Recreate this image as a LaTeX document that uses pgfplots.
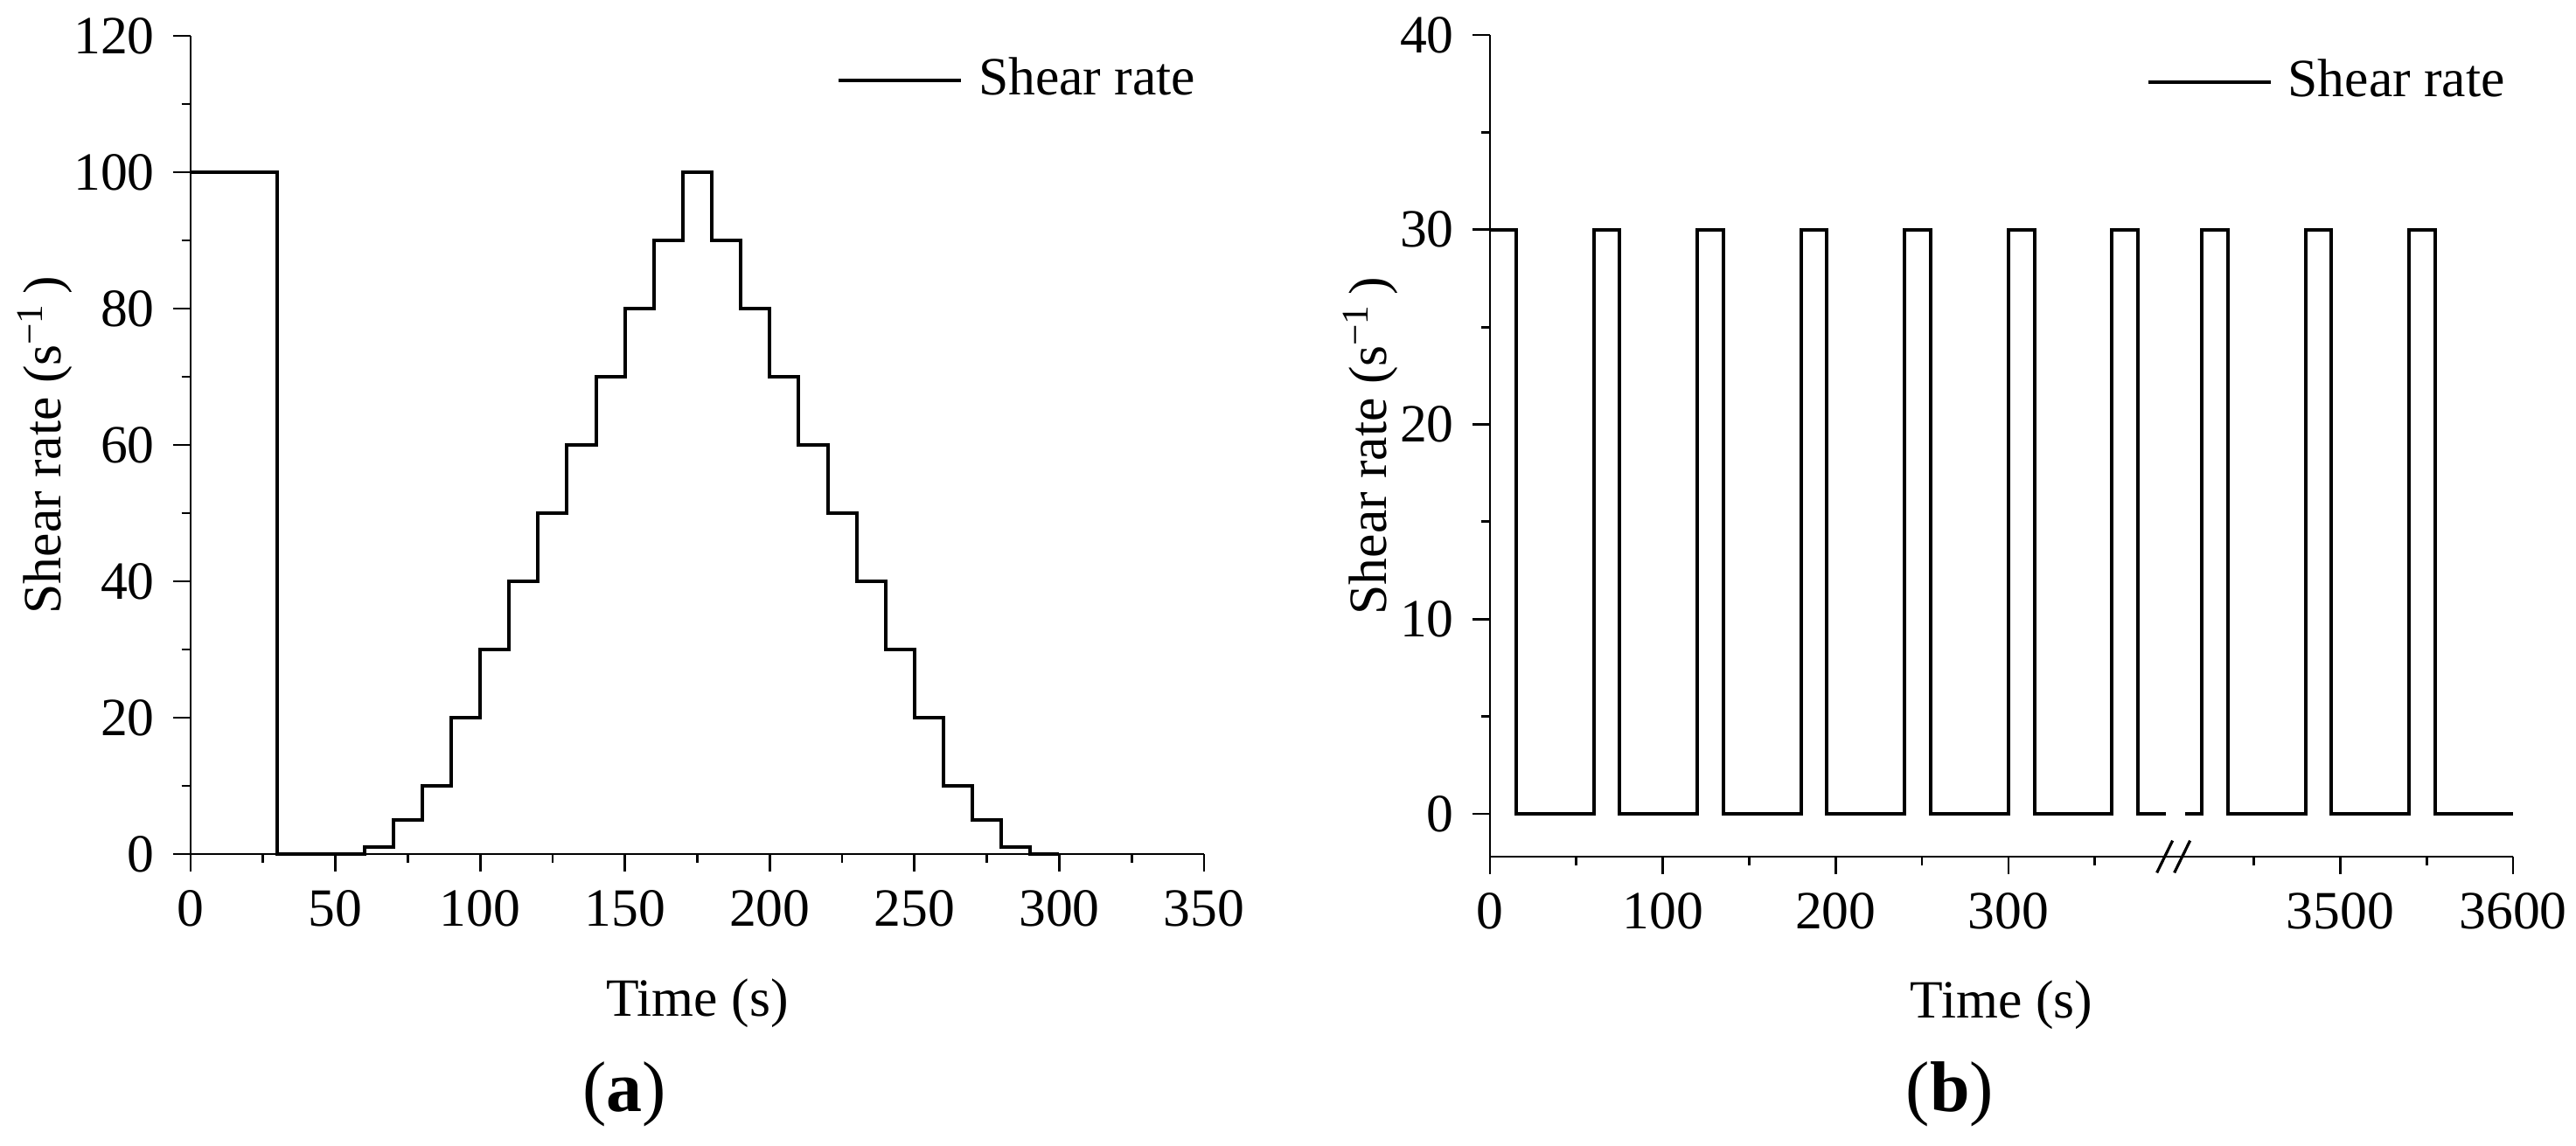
\documentclass[border=0pt]{standalone}
\usepackage{fontspec}
\setmainfont{Liberation Serif}
\usepackage{pgfplots}
\pgfplotsset{compat=1.18}
\newcommand{\fs}{\fontsize{15.4}{18}\selectfont}
\begin{document}
\fs
\begin{tikzpicture}
\useasboundingbox (0,0) rectangle (736.5pt,327.5pt);
\pgfplotsset{
  common/.style={
    scale only axis,
    axis x line*=bottom, axis y line*=left,
    tick align=outside,
    major tick length=5pt, minor tick length=2.6pt,
    every tick/.style={black, line width=0.7pt},
    axis line style={black, line width=0.7pt},
    tick label style={font=\fs, black},
    label style={font=\fs},
    /pgf/number format/assume math mode=true,
    /pgf/number format/1000 sep={},
    legend style={draw=none, fill=none, font=\fs, inner sep=0pt, outer sep=0pt,
      nodes={inner sep=0pt}, legend cell align=left},
    legend image code/.code={\draw[line width=1pt] (0pt,0pt) -- (35pt,0pt); \path (39.5pt,0pt);},
    clip=false,
  }
}
% ---------------- (a) ----------------
\begin{axis}[common,
  at={(54.5pt,83.25pt)}, anchor=south west,
  width=289.75pt, height=234pt,
  xmin=0, xmax=350, ymin=0, ymax=120,
  xtick={0,50,...,350}, ytick={0,20,...,120},
  minor x tick num=1, minor y tick num=1,
  xlabel={Time (s)}, ylabel={Shear rate (s\textsuperscript{−1}\,)},
  xlabel style={at={(axis description cs:0.5,-0.1827)}, anchor=center},
  ylabel style={at={(axis description cs:-0.1441,0.5)}, anchor=center},
  legend style={at={(axis description cs:0.9914,0.9455)}, anchor=east},
]
\addplot[const plot, black, line width=1pt] coordinates {
  (0,100) (30,0) (60,1) (70,5) (80,10) (90,20) (100,30) (110,40) (120,50)
  (130,60) (140,70) (150,80) (160,90) (170,100) (180,90) (190,80) (200,70)
  (210,60) (220,50) (230,40) (240,30) (250,20) (260,10) (270,5) (280,1)
  (290,0) (300,0)
};
\addlegendentry{Shear rate}
\end{axis}
% ---------------- (b) ----------------
\begin{axis}[common,
  at={(426pt,82.5pt)}, anchor=south west,
  width=292.5pt, height=235pt,
  xmin=0, xmax=592, ymin=-2.2, ymax=40,
  xtick={0,100,200,300,492,592},
  xticklabels={0,100,200,300,3500,3600},
  minor xtick={50,150,250,350,442,542},
  ytick={0,10,...,40}, minor y tick num=1,
  xlabel={Time (s)}, ylabel={Shear rate (s\textsuperscript{−1}\,)},
  xlabel style={at={(axis description cs:0.5,-0.181)}, anchor=center},
  ylabel style={at={(axis description cs:-0.117,0.5)}, anchor=center},
  legend style={at={(axis description cs:0.992,0.9426)}, anchor=east},
]
\addplot[const plot, black, line width=1pt] coordinates {
  (0,30) (15,0) (60,30) (75,0) (120,30) (135,0) (180,30) (195,0)
  (240,30) (255,0) (300,30) (315,0) (360,30) (375,0) (391,0)
};
\addlegendentry{Shear rate}
% segment after the axis break (real time minus 3008 s)
\addplot[const plot, black, line width=1pt, forget plot]
  table[x expr=\thisrow{t}-3008, y=r, row sep=\\] {
  t r\\ 3410 0\\ 3420 30\\ 3435 0\\ 3480 30\\ 3495 0\\ 3540 30\\ 3555 0\\ 3600 0\\
};
\draw[line width=0.8pt] ([xshift=-4.75pt,yshift=-4.6pt]axis cs:395.5,-2.2) -- ++(4.5pt,9.2pt);
\draw[line width=0.8pt] ([xshift=0.25pt,yshift=-4.6pt]axis cs:395.5,-2.2) -- ++(4.5pt,9.2pt);
\end{axis}
\node[font=\fontsize{20.5}{24}\selectfont] at (178.5pt,14.5pt) {(\textbf{a})};
\node[font=\fontsize{20.5}{24}\selectfont] at (557.5pt,14.5pt) {(\textbf{b})};
\end{tikzpicture}
\end{document}
